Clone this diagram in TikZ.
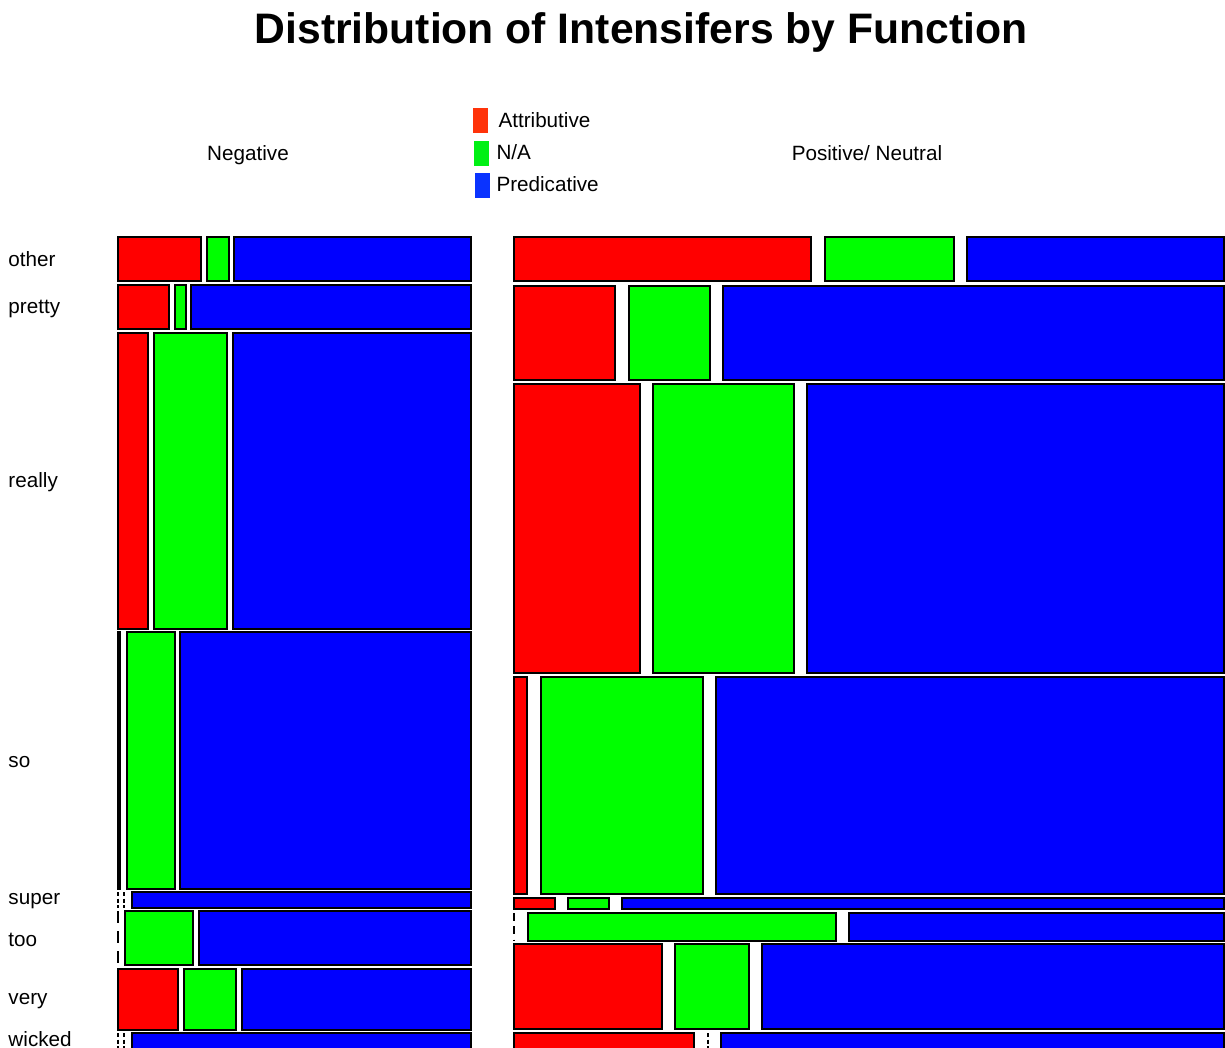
\documentclass[tikz,border=0pt]{standalone}
\usepackage{fontspec}
\setmainfont{Liberation Sans}

\definecolor{attrred}{RGB}{255,0,0}
\definecolor{nagreen}{RGB}{0,255,0}
\definecolor{predblue}{RGB}{0,0,255}
\definecolor{keyred}{RGB}{255,51,10}
\definecolor{keygreen}{RGB}{0,240,20}
\definecolor{keyblue}{RGB}{10,51,255}

\tikzset{every picture/.style={line width=0.75pt}}
\tikzset{
  cell/.style={draw=black, line width=1.5pt},
  attr/.style={cell, fill=attrred},
  na/.style={cell, fill=nagreen},
  pred/.style={cell, fill=predblue},
  zerocell/.style={draw=black, line width=1.5pt, dash pattern=#1},
  zerocell/.default={on 3pt off 2pt},
  txt/.style={inner sep=0pt, font=\fontsize{15.5}{18}\selectfont},
}

\begin{document}
\begin{tikzpicture}[x=0.75pt,y=0.75pt,yscale=-1]
	\useasboundingbox (0,0) rectangle (1225,1048);
	% Title and panel headings
	\node [anchor=base, inner sep=0pt, font=\bfseries\fontsize{32}{36}\selectfont] (title) at (641,44) {Distribution of Intensifers by Function};
	\node [txt, anchor=base] (neg) at (248,161) {Negative};
	\node [txt, anchor=base] (pos) at (867,161) {Positive/ Neutral};
	
	% Legend
	\fill [keyred] (473,108) rectangle (488,133);
	\fill [keygreen] (474,141) rectangle (489,166);
	\fill [keyblue] (475,173) rectangle (490,198);
	\node [txt, anchor=base west] (keyattr) at (498,128) {Attributive};
	\node [txt, anchor=base west] (keyna) at (496,160) {N/A};
	\node [txt, anchor=base west] (keypred) at (496,192) {Predicative};
	
	% Row labels
	\node [txt, anchor=base west] (other) at (8,267) {other};
	\node [txt, anchor=base west] (pretty) at (8,314) {pretty};
	\node [txt, anchor=base west] (really) at (8,488) {really};
	\node [txt, anchor=base west] (so) at (8,767) {so};
	\node [txt, anchor=base west] (super) at (8,904) {super};
	\node [txt, anchor=base west] (too) at (8,946) {too};
	\node [txt, anchor=base west] (very) at (8,1004) {very};
	\node [txt, anchor=base west] (wicked) at (8,1046) {wicked};
	
	% Draw cells of the negative panel
	\draw [attr] (118,237) rectangle (201,281);
	\draw [na]   (207,237) rectangle (229,281);
	\draw [pred] (234,237) rectangle (471,281);
	
	\draw [attr] (118,285) rectangle (169,329);
	\draw [na]   (175,285) rectangle (186,329);
	\draw [pred] (191,285) rectangle (471,329);
	
	\draw [attr] (118,333) rectangle (148,629);
	\draw [na]   (154,333) rectangle (227,629);
	\draw [pred] (233,333) rectangle (471,629);
	
	\draw [attr] (118,632) rectangle (120,889);
	\draw [na]   (127,632) rectangle (175,889);
	\draw [pred] (180,632) rectangle (471,889);
	
	\draw [zerocell] (118,892) -- (118,908);
	\draw [zerocell] (124,892) -- (124,908);
	\draw [pred] (132,892) rectangle (471,908);
	
	\draw [zerocell={on 9pt off 6pt}] (118,911) -- (118,965);
	\draw [na]   (125,911) rectangle (193,965);
	\draw [pred] (199,911) rectangle (471,965);
	
	\draw [attr] (118,969) rectangle (178,1030);
	\draw [na]   (184,969) rectangle (236,1030);
	\draw [pred] (242,969) rectangle (471,1030);
	
	\draw [zerocell] (118,1033) -- (118,1049);
	\draw [zerocell] (124,1033) -- (124,1049);
	\draw [pred] (132,1033) rectangle (471,1049);
	
	% Draw cells of the positive/neutral panel
	\draw [attr] (514,237) rectangle (811,281);
	\draw [na]   (825,237) rectangle (954,281);
	\draw [pred] (967,237) rectangle (1224,281);
	
	\draw [attr] (514,286) rectangle (615,380);
	\draw [na]   (629,286) rectangle (710,380);
	\draw [pred] (723,286) rectangle (1224,380);
	
	\draw [attr] (514,384) rectangle (640,673);
	\draw [na]   (653,384) rectangle (794,673);
	\draw [pred] (807,384) rectangle (1224,673);
	
	\draw [attr] (514,677) rectangle (527,894);
	\draw [na]   (541,677) rectangle (703,894);
	\draw [pred] (716,677) rectangle (1224,894);
	
	\draw [attr] (514,898) rectangle (555,909);
	\draw [na]   (568,898) rectangle (609,909);
	\draw [pred] (622,898) rectangle (1224,909);
	
	\draw [zerocell={on 6pt off 4pt}] (514,913) -- (514,941);
	\draw [na]   (528,913) rectangle (836,941);
	\draw [pred] (849,913) rectangle (1224,941);
	
	\draw [attr] (514,944) rectangle (662,1029);
	\draw [na]   (675,944) rectangle (749,1029);
	\draw [pred] (762,944) rectangle (1224,1029);
	
	\draw [attr] (514,1033) rectangle (694,1049);
	\draw [zerocell] (708,1033) -- (708,1049);
	\draw [pred] (721,1033) rectangle (1224,1049);
\end{tikzpicture}
\end{document}
